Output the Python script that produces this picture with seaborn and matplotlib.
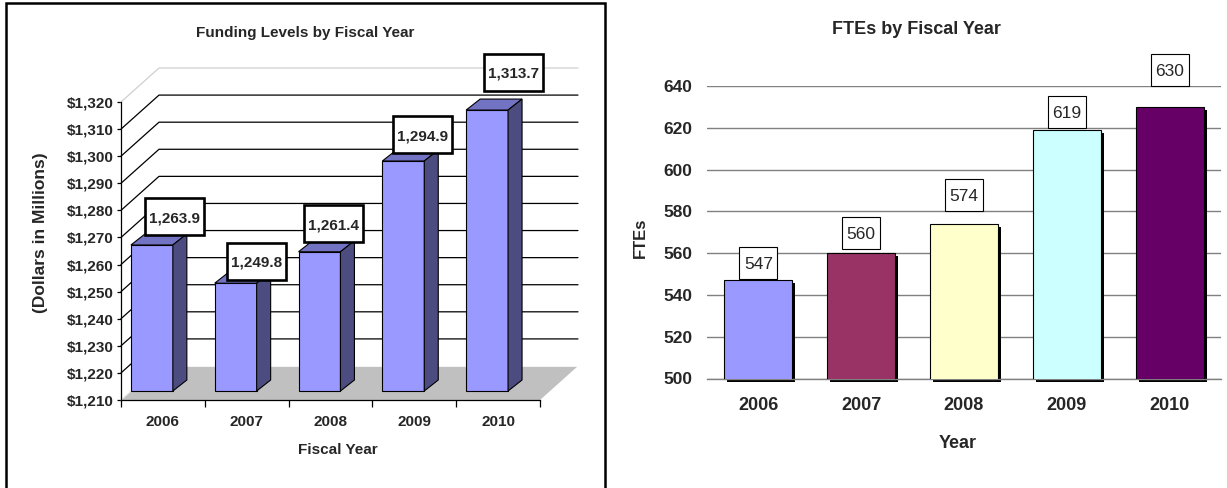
import numpy as np
import pandas as pd
import matplotlib
matplotlib.use("Agg")
import matplotlib.pyplot as plt
import matplotlib.patches as mpatches
import matplotlib.transforms as mtrans
import seaborn as sns

# ---------------- data ----------------
years = ["2006", "2007", "2008", "2009", "2010"]
funding = [1263.9, 1249.8, 1261.4, 1294.9, 1313.7]
funding_ticks = [1210, 1220, 1230, 1240, 1250, 1260, 1270, 1280, 1290, 1300, 1310, 1320]
funding_tick_labels = ["$1,210", "$1,220", "$1,230", "$1,240", "$1,250", "$1,260",
                       "$1,270", "$1,280", "$1,290", "$1,300", "$1,310", "$1,320"]
ftes = [547, 560, 574, 619, 630]
fte_ticks = [500, 520, 540, 560, 580, 600, 620, 640]
fte_colors = ["#9999FF", "#993366", "#FFFFCC", "#CCFFFF", "#660066"]

# ---------------- style / layout ----------------
W, H, DPI = 1227, 488, 100
sns.set_style("white")
plt.rcParams["font.family"] = ["Liberation Sans", "DejaVu Sans"]

BAR_SHIFT = np.array([-11.0, 9.0])     # px, bar plane vs. front plane
DEPTH = np.array([14.0, 11.0])          # px, bar depth (3-D look)
WALL = np.array([38.0, 34.0])           # px, back wall offset
LBL_DX_L = [23, 21, 14, 19, 26]         # px label box offsets (left chart)
LBL_DY_L = [28, 22, 28, 26, 38]
LBL_LIFT_R = [17.5, 20, 29, 18, 37]     # px label box lift (right chart)

fig = plt.figure(figsize=(W / DPI, H / DPI), dpi=DPI)


def frect(x0, y0, x1, y1):
    return [x0 / W, 1 - y1 / H, (x1 - x0) / W, (y1 - y0) / H]


def to_data(ax, pts):
    return ax.transData.inverted().transform(np.asarray(pts, dtype=float))


def box_text(ax, cx, cy, w, h, text, fs, weight, lw):
    corners = [(cx - w / 2, cy - h / 2), (cx + w / 2, cy - h / 2),
               (cx + w / 2, cy + h / 2), (cx - w / 2, cy + h / 2)]
    ax.add_patch(mpatches.Polygon(to_data(ax, corners), closed=True, facecolor="white",
                                  edgecolor="black", linewidth=lw, zorder=6, clip_on=False,
                                  joinstyle="miter"))
    fs_px = fs * DPI / 72.0
    tx, ty = to_data(ax, [(cx, cy - 0.36 * fs_px)])[0]
    ax.text(tx, ty, text, ha="center", va="baseline", fontsize=fs,
            fontweight=weight, zorder=7, clip_on=False)


# ======================= LEFT CHART =======================
axL = fig.add_axes(frect(121, 102, 540, 400))
axL.patch.set_alpha(0)
dfL = pd.DataFrame({"year": years, "value": funding})
sns.barplot(data=dfL, x="year", y="value", color="#9999FF", width=0.5, saturation=1,
            errorbar=None, edgecolor="black", linewidth=0.8, ax=axL, zorder=3)
axL.set_xlim(-0.5, 4.5)
axL.set_ylim(funding_ticks[0], funding_ticks[-1])
axL.set_autoscale_on(False)
BASE = funding_ticks[0]

bars = list(axL.patches)
shift_tr = mtrans.ScaledTranslation(BAR_SHIFT[0] / DPI, BAR_SHIFT[1] / DPI, fig.dpi_scale_trans)
for p in bars:
    top = p.get_y() + p.get_height()
    p.set_y(BASE)
    p.set_height(top - BASE)
    p.set_transform(axL.transData + shift_tr)

# back wall, side wall lines and floor
fl = axL.transData.transform((-0.5, BASE))
fr = axL.transData.transform((4.5, BASE))
floor = [fl, fr, fr + WALL, fl + WALL]
axL.add_patch(mpatches.Polygon(to_data(axL, floor), closed=True, facecolor="#C0C0C0",
                               edgecolor="none", zorder=1, clip_on=False))
bl = to_data(axL, [fl + WALL, fr + WALL])
axL.plot(bl[:, 0], bl[:, 1], color="white", lw=1.2, zorder=1.2, clip_on=False)
ld = to_data(axL, [fl, fl + WALL])
axL.plot(ld[:, 0], ld[:, 1], color="#E8E8E8", lw=0.8, zorder=1.2, clip_on=False)
for v in funding_ticks[1:]:
    col = "#D0D0D0" if v == funding_ticks[-1] else "black"
    a = axL.transData.transform((-0.5, v))
    b = axL.transData.transform((4.5, v))
    seg = to_data(axL, [a, a + WALL, b + WALL])
    axL.plot(seg[:, 0], seg[:, 1], color=col, lw=0.9, zorder=1, clip_on=False)

# bar side/top faces and labels
for p, val, ldx, ldy in zip(bars, funding, LBL_DX_L, LBL_DY_L):
    x0 = p.get_x()
    x1 = x0 + p.get_width()
    top = p.get_y() + p.get_height()
    a0 = axL.transData.transform((x0, BASE)) + BAR_SHIFT
    a1 = axL.transData.transform((x1, top)) + BAR_SHIFT
    topf = [(a0[0], a1[1]), (a1[0], a1[1]), (a1[0] + DEPTH[0], a1[1] + DEPTH[1]),
            (a0[0] + DEPTH[0], a1[1] + DEPTH[1])]
    side = [(a1[0], a0[1]), (a1[0], a1[1]), (a1[0] + DEPTH[0], a1[1] + DEPTH[1]),
            (a1[0] + DEPTH[0], a0[1] + DEPTH[1])]
    axL.add_patch(mpatches.Polygon(to_data(axL, topf), closed=True, facecolor="#7373C4",
                                   edgecolor="black", linewidth=0.8, zorder=3, clip_on=False))
    axL.add_patch(mpatches.Polygon(to_data(axL, side), closed=True, facecolor="#4C4C80",
                                   edgecolor="black", linewidth=0.8, zorder=3, clip_on=False))
    cx = (a0[0] + a1[0]) / 2 + ldx
    cy = a1[1] + ldy
    box_text(axL, cx, cy, 59, 37, f"{val:,.1f}", 11, "bold", 1.9)

for s in ["top", "right"]:
    axL.spines[s].set_visible(False)
for s in ["left", "bottom"]:
    axL.spines[s].set_color("black")
    axL.spines[s].set_linewidth(0.9)
    axL.spines[s].set_zorder(2)
axL.set_yticks(funding_ticks)
axL.set_yticklabels(funding_tick_labels, fontsize=11, fontweight="bold")
axL.set_xticks(range(len(years)))
axL.set_xticklabels(years, fontsize=11, fontweight="bold")
axL.set_xticks(np.arange(-0.5, 5.0, 1.0), minor=True)
axL.tick_params(axis="y", which="major", left=True, length=3, width=0.9, direction="out",
                color="black", pad=2.5)
axL.tick_params(axis="x", which="major", bottom=True, length=0, pad=10.5)
axL.tick_params(axis="x", which="minor", bottom=True, length=5, width=0.9, direction="out",
                color="black")
axL.set_xlabel("")
axL.set_ylabel("")

fig.text(305.6 / W, 1 - 33 / H, "Funding Levels by Fiscal Year", ha="center", va="center",
         fontsize=11, fontweight="bold")
fig.text(41 / W, 1 - 233 / H, "(Dollars in Millions)", ha="center", va="center",
         rotation=90, fontsize=12.5, fontweight="bold")
fig.text(338 / W, 1 - 450 / H, "Fiscal Year", ha="center", va="center",
         fontsize=11, fontweight="bold")

fig.add_artist(mpatches.Rectangle((6 / W, -0.1), (605.3 - 6) / W, 1.1 - 3.3 / H,
                                  transform=fig.transFigure, fill=False, edgecolor="black",
                                  linewidth=1.8, clip_on=False))

# ======================= RIGHT CHART =======================
axR = fig.add_axes(frect(707, 86, 1221, 378.5))
dfR = pd.DataFrame({"year": years, "fte": ftes})
sns.barplot(data=dfR, x="year", y="fte", color="black", width=0.66, saturation=1,
            errorbar=None, linewidth=0, ax=axR, zorder=2)
axR.set_ylim(fte_ticks[0], fte_ticks[-1])
sh_tr = mtrans.ScaledTranslation(3 / DPI, -3 / DPI, fig.dpi_scale_trans)
shadows = list(axR.patches)
for p in shadows:
    top = p.get_y() + p.get_height()
    p.set_y(fte_ticks[0])
    p.set_height(top - fte_ticks[0])
    p.set_transform(axR.transData + sh_tr)
    p.set_clip_on(False)
sns.barplot(data=dfR, x="year", y="fte", hue="year", palette=fte_colors, legend=False,
            width=0.66, saturation=1, errorbar=None, edgecolor="black", linewidth=0.8,
            ax=axR, zorder=3)
axR.set_xlim(-0.5, 4.5)
axR.set_ylim(fte_ticks[0], fte_ticks[-1])
axR.set_autoscale_on(False)
main_bars = [p for p in axR.patches if p not in shadows]

for p, val, lift in zip(main_bars, ftes, LBL_LIFT_R):
    cx, ty = axR.transData.transform((p.get_x() + p.get_width() / 2, p.get_y() + p.get_height()))
    box_text(axR, cx, ty + lift, 38, 32, f"{val}", 12.5, "normal", 0.8)

axR.set_axisbelow(True)
axR.yaxis.grid(True, color="#808080", linewidth=1.0)
axR.xaxis.grid(False)
for s in ["top", "right", "left"]:
    axR.spines[s].set_visible(False)
axR.spines["bottom"].set_color("#808080")
axR.spines["bottom"].set_linewidth(1.0)
axR.set_yticks(fte_ticks)
axR.set_yticklabels([str(t) for t in fte_ticks], fontsize=12.5, fontweight="bold")
axR.set_xticks(range(len(years)))
axR.set_xticklabels(years, fontsize=13, fontweight="bold")
axR.tick_params(axis="y", length=0, pad=10.5)
axR.tick_params(axis="x", length=0, pad=13)
axR.set_xlabel("")
axR.set_ylabel("")

fig.text(916.6 / W, 1 - 30 / H, "FTEs by Fiscal Year", ha="center", va="center",
         fontsize=13, fontweight="bold")
fig.text(640 / W, 1 - 238 / H, "FTEs", ha="center", va="center", rotation=90,
         fontsize=12, fontweight="bold")
fig.text(958 / W, 1 - 443 / H, "Year", ha="center", va="center",
         fontsize=13, fontweight="bold")

fig.savefig("out.png", dpi=DPI)
